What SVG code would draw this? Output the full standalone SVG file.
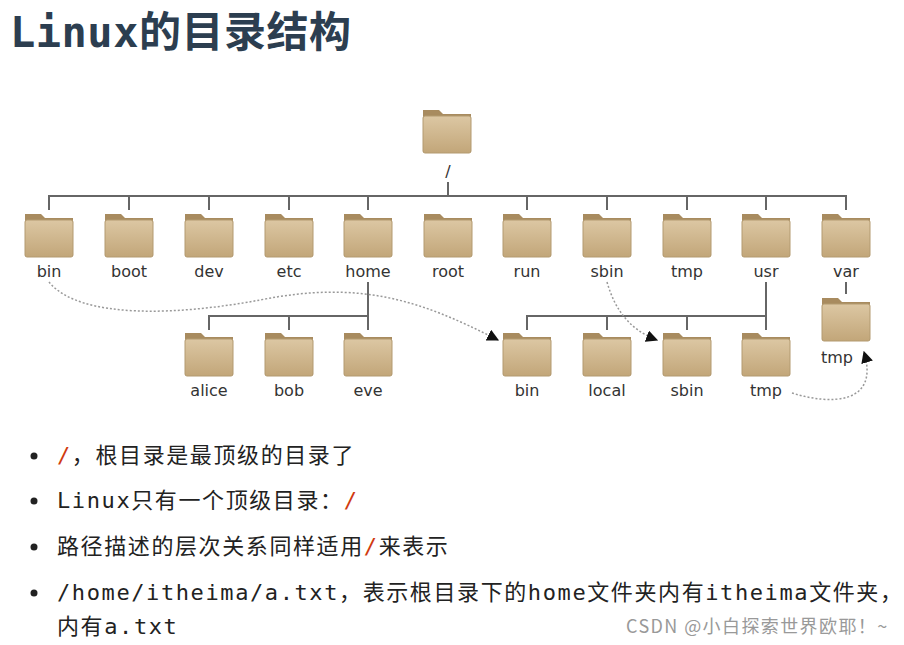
<svg xmlns="http://www.w3.org/2000/svg" width="904" height="645" viewBox="0 0 904 645">
<defs>
<linearGradient id="fg" x1="0" y1="0" x2="0" y2="1"><stop offset="0" stop-color="#dcc7a3"/><stop offset="1" stop-color="#c2a679"/></linearGradient>
<g id="folder">
<path d="M-24,-21 h16 l4,4 h28 v38 h-48 z" fill="#a88b5f"/>
<rect x="-24" y="-15" width="48" height="37" rx="2" fill="url(#fg)" stroke="#b39a70" stroke-width="1"/>
</g>
<marker id="ah" viewBox="0 0 10 10" refX="9" refY="5" markerWidth="8" markerHeight="8" orient="auto"><path d="M0,0 L10,5 L0,10 z" fill="#111"/></marker>
<style>
.lbl{font-family:"DejaVu Sans","Open Sans",sans-serif;font-size:16px;fill:#333;text-anchor:middle}
.tree{stroke:#666;stroke-width:2;fill:none}
.dot{stroke:#999;stroke-width:1.5;stroke-dasharray:2 2;fill:none}
.b{font-family:"DejaVu Sans Mono","Noto Sans CJK SC",monospace;font-size:22px;fill:#222;letter-spacing:1.6px}
.red{fill:#d03a10}
</style>
</defs>
<rect width="904" height="645" fill="#fff"/>
<text x="10" y="47" font-family="DejaVu Sans Mono,'Noto Sans CJK SC',monospace" font-size="42" font-weight="bold" fill="#2c3e50" letter-spacing="0.5">Linux的目录结构</text>
<g id="connectors">
<path class="tree" d="M448,182V196M49,210V196H846V210M129,196V210M209,196V210M289,196V210M368,196V210M527,196V210M607,196V210M687,196V210M766,196V210"/>
<path class="tree" d="M368,282V330M209,330V316H368M289,316V330"/>
<path class="tree" d="M766,282V330M527,330V316H766M607,316V330M687,316V330"/>
<path class="tree" d="M846,282V294"/>
<path class="dot" d="M49,282 C80,320 180,315 260,300 C360,280 420,300 498,340" marker-end="url(#ah)"/>
<path class="dot" d="M607,282 C615,310 630,330 657,340" marker-end="url(#ah)"/>
<path class="dot" d="M792,393 C830,405 880,405 864,352" marker-end="url(#ah)"/>
</g>
<g id="root"><use href="#folder" x="447" y="131"/><text class="lbl" x="448" y="177">/</text></g>
<g id="bin"><use href="#folder" x="49" y="235"/><text class="lbl" x="49" y="277">bin</text></g>
<g id="boot"><use href="#folder" x="129" y="235"/><text class="lbl" x="129" y="277">boot</text></g>
<g id="dev"><use href="#folder" x="209" y="235"/><text class="lbl" x="209" y="277">dev</text></g>
<g id="etc"><use href="#folder" x="289" y="235"/><text class="lbl" x="289" y="277">etc</text></g>
<g id="home"><use href="#folder" x="368" y="235"/><text class="lbl" x="368" y="277">home</text></g>
<g id="rootdir"><use href="#folder" x="448" y="235"/><text class="lbl" x="448" y="277">root</text></g>
<g id="run"><use href="#folder" x="527" y="235"/><text class="lbl" x="527" y="277">run</text></g>
<g id="sbin"><use href="#folder" x="607" y="235"/><text class="lbl" x="607" y="277">sbin</text></g>
<g id="tmp"><use href="#folder" x="687" y="235"/><text class="lbl" x="687" y="277">tmp</text></g>
<g id="usr"><use href="#folder" x="766" y="235"/><text class="lbl" x="766" y="277">usr</text></g>
<g id="var"><use href="#folder" x="846" y="235"/><text class="lbl" x="846" y="277">var</text></g>
<g id="alice"><use href="#folder" x="209" y="354"/><text class="lbl" x="209" y="396">alice</text></g>
<g id="bob"><use href="#folder" x="289" y="354"/><text class="lbl" x="289" y="396">bob</text></g>
<g id="eve"><use href="#folder" x="368" y="354"/><text class="lbl" x="368" y="396">eve</text></g>
<g id="usrbin"><use href="#folder" x="527" y="354"/><text class="lbl" x="527" y="396">bin</text></g>
<g id="usrlocal"><use href="#folder" x="607" y="354"/><text class="lbl" x="607" y="396">local</text></g>
<g id="usrsbin"><use href="#folder" x="687" y="354"/><text class="lbl" x="687" y="396">sbin</text></g>
<g id="usrtmp"><use href="#folder" x="766" y="354"/><text class="lbl" x="766" y="396">tmp</text></g>
<g id="vartmp"><use href="#folder" x="846" y="319"/><text class="lbl" x="837" y="363">tmp</text></g>
<g id="bullets">
<circle cx="34" cy="456" r="3.5" fill="#222"/><circle cx="34" cy="501" r="3.5" fill="#222"/><circle cx="34" cy="547" r="3.5" fill="#222"/><circle cx="34" cy="593" r="3.5" fill="#222"/>
<text class="b" x="57" y="463"><tspan class="red">/</tspan>，根目录是最顶级的目录了</text>
<text class="b" x="57" y="508">Linux只有一个顶级目录：<tspan class="red">/</tspan></text>
<text class="b" x="57" y="554">路径描述的层次关系同样适用<tspan class="red">/</tspan>来表示</text>
<text class="b" x="57" y="600">/home/itheima/a.txt，表示根目录下的home文件夹内有itheima文件夹，</text>
<text class="b" x="57" y="634">内有a.txt</text>
</g>
<text x="626" y="633" font-family="'Noto Sans CJK SC',sans-serif" font-size="18" fill="#999" letter-spacing="1.4">CSDN @小白探索世界欧耶！~</text>
</svg>
